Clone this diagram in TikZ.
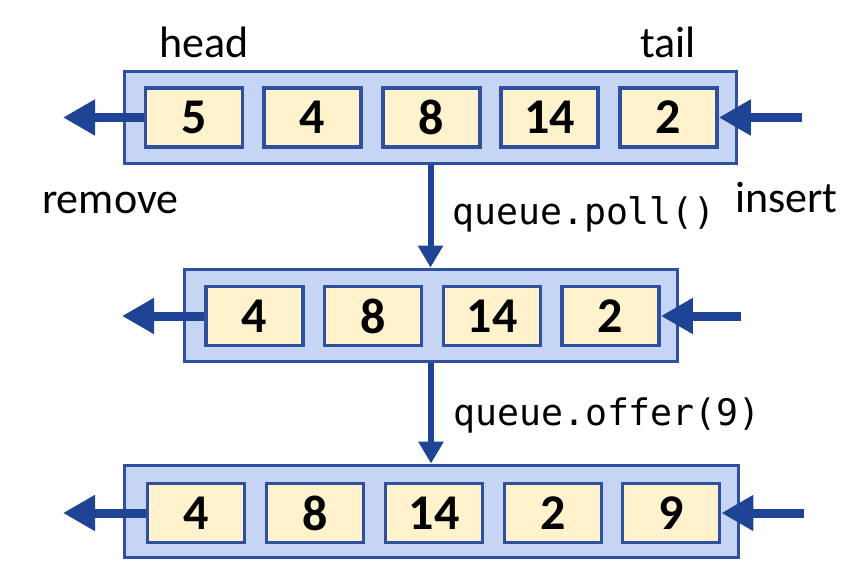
\documentclass[tikz,border=0pt]{standalone}
\usepackage{fontspec}
\setmainfont{Carlito}
\newfontfamily\monof{DejaVu Sans Mono}
\usetikzlibrary{arrows.meta}
\definecolor{qblue}{HTML}{2F4F9F}
\definecolor{qarrow}{HTML}{1F4496}
\definecolor{qfill}{HTML}{C5D5F3}
\definecolor{cellfill}{HTML}{FFF2CC}
\begin{document}
\begin{tikzpicture}[x=1pt,y=-1pt,
 outerbox/.style={draw=qblue, fill=qfill, line width=3.8pt, inner sep=0pt, minimum height=92pt},
 cellbox/.style={draw=qblue, fill=cellfill, line width=3.8pt, minimum width=97pt, minimum height=59pt, inner sep=0pt, font=\fontsize{50}{54}\selectfont\bfseries},
 harrow/.style={draw=qarrow, line width=9pt, -{Triangle[length=32pt,width=34pt]}},
 varrow/.style={draw=qarrow, line width=6pt, -{Triangle[length=22pt,width=24pt]}},
 lbl/.style={font=\fontsize{44}{48}\selectfont, anchor=base, inner sep=0pt},
 code/.style={font=\monof\fontsize{36.5}{40}\selectfont, anchor=base west, inner sep=0pt}]
\useasboundingbox (0,0) rectangle (851,577);
% row 1
\node[outerbox, minimum width=612pt] (r1) at (430.5,117.5) {};
\node[cellbox] (a1) at (194,117.5) {5};
\node[cellbox] (a2) at (312.6,117.5) {4};
\node[cellbox] (a3) at (431.2,117.5) {8};
\node[cellbox] (a4) at (549.8,117.5) {14};
\node[cellbox] (a5) at (668.4,117.5) {2};
\coordinate (a1out) at (63,117.5);
\coordinate (a5in) at (802,117.5);
\draw[harrow] (a1.west) -- (a1out);
\draw[harrow] (a5in) -- (a5.east);
% row 2
\node[outerbox, minimum width=493pt] (r2) at (431,315.5) {};
\node[cellbox] (b1) at (254.5,316) {4};
\node[cellbox] (b2) at (373,316) {8};
\node[cellbox] (b3) at (492,316) {14};
\node[cellbox] (b4) at (610.5,316) {2};
\coordinate (b1out) at (122,316);
\coordinate (b4in) at (741,316);
\draw[harrow] (b1.west) -- (b1out);
\draw[harrow] (b4in) -- (b4.east);
% row 3
\node[outerbox, minimum width=614pt] (r3) at (431.5,511.5) {};
\node[cellbox] (c1) at (196,513) {4};
\node[cellbox] (c2) at (315,513) {8};
\node[cellbox] (c3) at (434,513) {14};
\node[cellbox] (c4) at (553,513) {2};
\node[cellbox] (c5) at (671,513) {9};
\coordinate (c1out) at (63,513);
\coordinate (c5in) at (804,513);
\draw[harrow] (c1.west) -- (c1out);
\draw[harrow] (c5in) -- (c5.east);
% vertical arrows
\draw[varrow] (r1.south) -- (r1.south |- r2.north);
\draw[varrow] (r2.south) -- (r2.south |- r3.north);
% labels
\node[lbl] (head) at (204,58) {head};
\node[lbl] (tail) at (668,58) {tail};
\node[lbl, anchor=base west] (remove) at (42,214) {remove};
\node[lbl, anchor=base west] (insert) at (735,213) {insert};
\node[code] (poll) at (452,225) {queue.poll()};
\node[code] (offer) at (453,425) {queue.offer(9)};
\end{tikzpicture}
\end{document}
